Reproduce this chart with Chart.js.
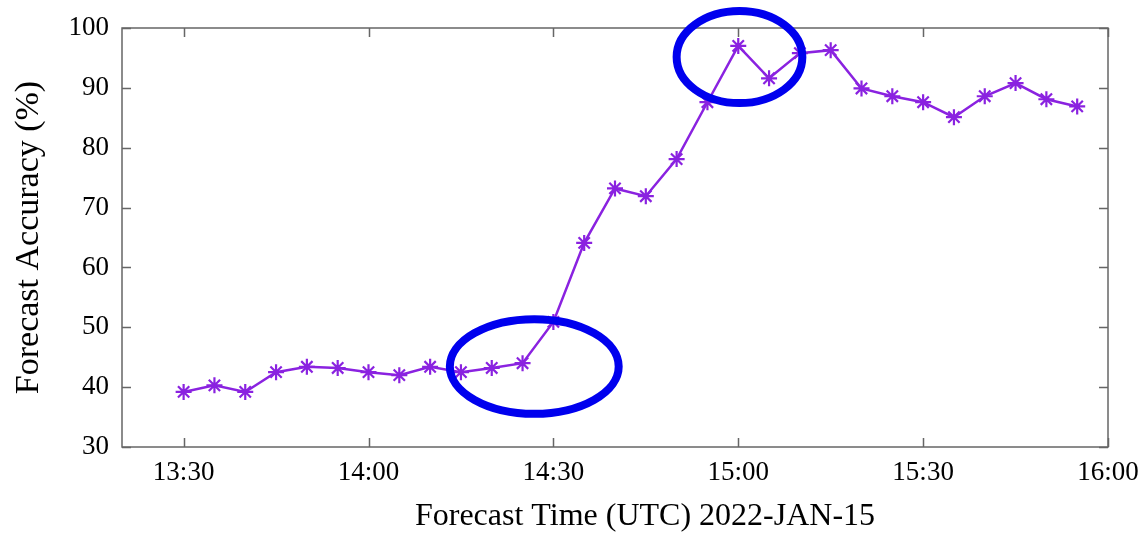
<!DOCTYPE html>
<html>
<head>
<meta charset="utf-8">
<script src="https://cdn.jsdelivr.net/npm/chart.js@4/dist/chart.umd.min.js"></script>
<style>
  html, body { margin: 0; padding: 0; background: #fff; }
  #wrap { width: 1148px; height: 535px; }
</style>
</head>
<body>
<div id="wrap"><canvas id="chart" width="1148" height="535"></canvas></div>
<script>
// forecast times (UTC) and accuracy
const times = ['13:30','13:35','13:40','13:45','13:50','13:55','14:00','14:05','14:10','14:15',
               '14:20','14:25','14:30','14:35','14:40','14:45','14:50','14:55','15:00','15:05',
               '15:10','15:15','15:20','15:25','15:30','15:35','15:40','15:45','15:50','15:55'];
const accuracy = [39.2, 40.3, 39.2, 42.5, 43.4, 43.2, 42.5, 42.0, 43.4, 42.5,
                  43.2, 44.0, 50.9, 64.1, 73.2, 71.9, 78.1, 87.6, 97.0, 91.6,
                  95.8, 96.3, 89.9, 88.6, 87.6, 85.1, 88.6, 90.8, 88.1, 86.9];
const xTickLabels = ['13:30', '14:00', '14:30', '15:00', '15:30', '16:00'];
const yTickValues = [30, 40, 50, 60, 70, 80, 90, 100];
const xTitle = 'Forecast Time (UTC) 2022-JAN-15';

// highlighted regions (centre time, centre value, half width in minutes, half height in %)
const highlightTimes = ['14:26.9', '15:00.2'];
const highlightValues = [43.45, 95.15];
const highlightHalfWidth = [13.7, 10.2];
const highlightHalfHeight = [7.9, 7.7];

function toMinutes(t) {
    const p = t.split(':');
    return parseInt(p[0], 10) * 60 + parseFloat(p[1]);
}
function fmtTime(m) {
    const h = Math.floor(m / 60), mm = Math.round(m - h * 60);
    return h + ':' + (mm < 10 ? '0' : '') + mm;
}

const FONT = "'Liberation Serif', 'Times New Roman', serif";
const AXIS = '#666666';

// gnuplot-style frame with inward ticks on all four sides
const framePlugin = {
    id: 'frame',
    beforeDatasetsDraw(chart) {
        const {ctx, chartArea: a, scales: {x, y}} = chart;
        ctx.save();
        ctx.strokeStyle = AXIS;
        ctx.lineWidth = 1.5;
        ctx.strokeRect(a.left, a.top, a.right - a.left, a.bottom - a.top);
        const len = 9;
        ctx.beginPath();
        xTickLabels.forEach(t => {
            const px = Math.round(x.getPixelForValue(toMinutes(t))) + 0.5;
            ctx.moveTo(px, a.bottom); ctx.lineTo(px, a.bottom - len);
            ctx.moveTo(px, a.top); ctx.lineTo(px, a.top + len);
        });
        yTickValues.forEach(v => {
            const py = Math.round(y.getPixelForValue(v)) + 0.5;
            ctx.moveTo(a.left, py); ctx.lineTo(a.left + len, py);
            ctx.moveTo(a.right, py); ctx.lineTo(a.right - len, py);
        });
        ctx.stroke();
        ctx.restore();
    },
    afterDraw(chart) {
        // x label sits a little right of the plot centre, as in the source figure
        const {ctx, chartArea: a} = chart;
        ctx.save();
        ctx.font = '32px ' + FONT;
        ctx.fillStyle = '#000';
        ctx.textAlign = 'center';
        ctx.textBaseline = 'middle';
        ctx.fillText(xTitle, (a.left + a.right) / 2 + 30, 517);
        ctx.restore();
    }
};

const ellipsePlugin = {
    id: 'ellipses',
    afterDatasetsDraw(chart) {
        const {ctx, scales: {x, y}} = chart;
        ctx.save();
        ctx.strokeStyle = '#0000ee';
        ctx.lineWidth = 8;
        highlightTimes.forEach((t, i) => {
            const c = toMinutes(t);
            const cx = x.getPixelForValue(c);
            const cy = y.getPixelForValue(highlightValues[i]);
            const rx = Math.abs(x.getPixelForValue(c + highlightHalfWidth[i]) - cx);
            const ry = Math.abs(y.getPixelForValue(highlightValues[i] + highlightHalfHeight[i]) - cy);
            ctx.beginPath();
            ctx.ellipse(cx, cy, rx, ry, 0, 0, Math.PI * 2);
            ctx.stroke();
        });
        ctx.restore();
    }
};

new Chart(document.getElementById('chart'), {
    type: 'line',
    data: {
        datasets: [{
            data: times.map((t, i) => ({x: toMinutes(t), y: accuracy[i]})),
            borderColor: '#8a22e0',
            borderWidth: 2.5,
            pointStyle: 'star',
            pointRadius: 8,
            pointBorderWidth: 2.2,
            pointBorderColor: '#8a22e0',
            pointBackgroundColor: '#8a22e0',
            tension: 0,
            clip: false
        }]
    },
    options: {
        responsive: false,
        animation: false,
        devicePixelRatio: 1,
        layout: {padding: {left: 0, right: 40, top: 28, bottom: 0}},
        plugins: {legend: {display: false}, tooltip: {enabled: false}},
        scales: {
            x: {
                type: 'linear',
                min: toMinutes('13:20'),
                max: toMinutes('16:00'),
                afterBuildTicks: s => { s.ticks = xTickLabels.map(t => ({value: toMinutes(t)})); },
                afterFit: s => { s.height = 88; s.paddingLeft = 0; s.paddingRight = 0; },
                grid: {display: false, drawTicks: false},
                border: {display: false},
                ticks: {
                    callback: v => fmtTime(v),
                    color: '#000',
                    font: {family: FONT, size: 27},
                    padding: 10,
                    maxRotation: 0
                },
                title: {display: false}
            },
            y: {
                min: 30,
                max: 100,
                afterBuildTicks: s => { s.ticks = yTickValues.map(v => ({value: v})); },
                afterFit: s => { s.width = 122; s.paddingTop = 0; s.paddingBottom = 0; },
                grid: {display: false, drawTicks: false},
                border: {display: false},
                ticks: {
                    color: '#000',
                    font: {family: FONT, size: 27},
                    padding: 13
                },
                title: {
                    display: true,
                    text: 'Forecast Accuracy (%)',
                    color: '#000',
                    font: {family: FONT, size: 34},
                    padding: {top: 9, bottom: 0}
                }
            }
        }
    },
    plugins: [framePlugin, ellipsePlugin]
});
</script>
</body>
</html>
